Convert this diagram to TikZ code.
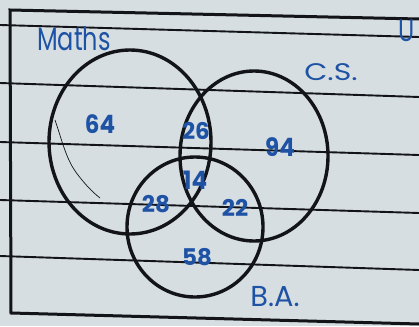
\documentclass[tikz,border=0pt]{standalone}
\usepackage{fontspec}
\setmainfont{Poppins}
\definecolor{paper}{RGB}{214,222,226}
\definecolor{ink}{RGB}{30,82,165}
\definecolor{pen}{RGB}{18,20,24}
\tikzset{
  rule/.style={draw=pen, line width=1.9pt},
  border/.style={draw=pen, line width=3pt},
  setcircle/.style={draw=pen, line width=3.4pt},
  lbl/.style={text=ink, font=\fontsize{24}{24}\selectfont, inner sep=0pt},
  num/.style={text=ink, font=\fontsize{23}{23}\selectfont\bfseries, inner sep=0pt},
}
\begin{document}
\begin{tikzpicture}[x=1pt,y=-1pt]
\useasboundingbox (0,0) rectangle (419,326);
\fill[paper] (0,0) rectangle (419,326);
% ruled lines
\coordinate (r1a) at (0,25);  \coordinate (r1b) at (419,37);
\coordinate (r2a) at (0,83);  \coordinate (r2b) at (419,97);
\coordinate (r3a) at (0,142); \coordinate (r3b) at (419,155);
\coordinate (r4a) at (0,200); \coordinate (r4b) at (419,213);
\coordinate (r5a) at (0,256); \coordinate (r5b) at (419,270);
\foreach \i in {1,...,5} {\draw[rule] (r\i a) -- (r\i b);}
% border (universal set)
\coordinate (tl) at (10,10);
\coordinate (tr) at (419,19);
\coordinate (bl) at (11,313);
\coordinate (br) at (419,324);
\draw[border] (tr) -- (tl) -- (bl) -- (br);
% sets
\draw[setcircle] (130,142) ellipse [x radius=81, y radius=92];
\draw[setcircle] (254,156) ellipse [x radius=74, y radius=85];
\draw[setcircle] (195,227) ellipse [x radius=68, y radius=70];
% stray pencil stroke
\draw[pen, line width=0.7pt] (55,120) .. controls (62,140) and (66,160) .. (78,175) .. controls (88,188) and (95,194) .. (100,198);
% labels
\node[lbl, yscale=1.35, transform shape] (maths) at (74,39) {Maths};
\node[lbl, xscale=1.25, transform shape] (cs) at (331,72) {C.S.};
\node[lbl, xscale=1.2, yscale=1.2, transform shape] (ba) at (275,297) {B.A.};
\node[lbl, anchor=west, yscale=1.3, transform shape] (u) at (398,31) {U};
% region numbers
\node[num, yscale=1.1, transform shape] (n64) at (100,124) {64};
\node[num] (n26) at (196,131) {26};
\node[num, yscale=1.1, transform shape] (n94) at (280,147) {94};
\node[num, yscale=1.1, transform shape] (n14) at (195,180) {14};
\node[num] (n28) at (156,204) {28};
\node[num] (n22) at (235,208) {22};
\node[num] (n58) at (197,257) {58};
\end{tikzpicture}
\end{document}
